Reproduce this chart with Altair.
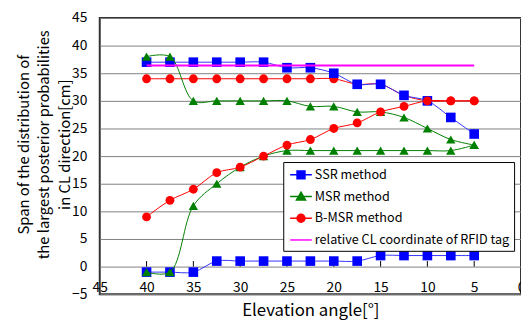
import altair as alt
import pandas as pd

# ---- data ----
elevation = [40, 37.5, 35, 32.5, 30, 27.5, 25, 22.5, 20, 17.5, 15, 12.5, 10, 7.5, 5]
ssr_upper = [37, 37, 37, 37, 37, 37, 36, 36, 35, 33, 33, 31, 30, 27, 24]
ssr_lower = [-1, -1, -1, 1, 1, 1, 1, 1, 1, 1, 2, 2, 2, 2, 2]
msr_upper = [38, 38, 30, 30, 30, 30, 30, 29, 29, 28, 28, 27, 25, 23, 22]
msr_lower = [-1, -1, 11, 15, 18, 20, 21, 21, 21, 21, 21, 21, 21, 21, 22]
bmsr_upper = [34, 34, 34, 34, 34, 34, 34, 34, 34, 33, 33, 31, 30, 30, 30]
bmsr_lower = [9, 12, 14, 17, 18, 20, 22, 23, 25, 26, 28, 29, 30, 30, 30]
rfid_x = [40, 5]
rfid_y = [36.4, 36.4]

series_names = ["SSR method", "MSR method", "B-MSR method", "relative CL coordinate of RFID tag"]
series_colors = ["#0000FF", "#008000", "#FF0000", "#FF00FF"]
x_ticks = [45, 40, 35, 30, 25, 20, 15, 10, 5, 0]
y_ticks = [-5, 0, 5, 10, 15, 20, 25, 30, 35, 40, 45]

FONT = "Noto Sans CJK JP"

rows = []
for name, bound, vals in [
    ("SSR method", "upper", ssr_upper), ("SSR method", "lower", ssr_lower),
    ("MSR method", "upper", msr_upper), ("MSR method", "lower", msr_lower),
    ("B-MSR method", "upper", bmsr_upper), ("B-MSR method", "lower", bmsr_lower),
]:
    for xv, yv in zip(elevation, vals):
        rows.append({"x": xv, "y": yv, "series": name, "bound": bound})
for xv, yv in zip(rfid_x, rfid_y):
    rows.append({"x": xv, "y": yv, "series": series_names[3], "bound": "tag"})
df = pd.DataFrame(rows)
ticks_df = pd.DataFrame({"x": x_ticks[1:-1]})

xs = alt.Scale(domain=[0, 45], reverse=True, nice=False, zero=False)
ys = alt.Scale(domain=[-5, 45], nice=False, zero=False)

xaxis = alt.Axis(
    values=x_ticks, offset=-28, domain=False, ticks=False, grid=False,
    labelPadding=14, labelFlush=False, labelOverlap=False, labelFontSize=14,
    labelColor="black", title="Elevation angle[°]", titleFontSize=17,
    titleFontWeight="normal", titlePadding=9, titleColor="black")
yaxis = alt.Axis(
    values=y_ticks, domain=False, ticks=False, grid=True, gridColor="#808080",
    gridWidth=1, labelPadding=13, labelFontSize=14, labelColor="black",
    labelFlush=False, labelOverlap=False,
    title=["Span of the distribution of", "the largest posterior probabilities",
           "in CL direction[cm]"],
    titleFontSize=15, titleFontWeight="normal", titleLineHeight=21,
    titlePadding=-1, titleY=128, titleColor="black")

X = alt.X("x:Q", scale=xs, axis=xaxis)
Y = alt.Y("y:Q", scale=ys, axis=yaxis)

base = alt.Chart(df)

def line_layer(name, bound, color, width=1.0):
    return base.transform_filter(
        (alt.datum.series == name) & (alt.datum.bound == bound)
    ).mark_line(interpolate="catmull-rom", color=color, strokeWidth=width).encode(x=X, y=Y)

def point_layer(name, bound, color, shape, size):
    return base.transform_filter(
        (alt.datum.series == name) & (alt.datum.bound == bound)
    ).mark_point(filled=True, shape=shape, size=size, color=color, opacity=1).encode(x=X, y=Y)

tick_layer = alt.Chart(ticks_df).mark_rule(color="black", strokeWidth=1).encode(
    x=X, y=alt.YDatum(0, scale=ys, axis=yaxis), y2=alt.Y2Datum(1))

# legend symbols: line segment + marker (unit coords, scaled by sqrt(size)/2)
legend_paths = [
    "M-0.75,0H2M0.125,-0.5H1.125V0.5H0.125Z",
    "M-0.75,0H2M0.625,-0.55L1.2,0.45H0.05Z",
    "M-0.75,0H2M0.125,0A0.5,0.5 0 1,0 1.125,0A0.5,0.5 0 1,0 0.125,0Z",
    "M-0.75,0H2",
]
leg = alt.Legend(title=None, orient="none", legendX=186, legendY=146,
                 fillColor="white", strokeColor="black", padding=4,
                 symbolSize=256, symbolStrokeWidth=1.5, labelFont=FONT,
                 labelFontSize=12.8, labelOffset=10, rowPadding=6, labelColor="black",
                 labelLimit=0, cornerRadius=0, symbolOpacity=1)
legend_layer = base.transform_filter("false").mark_point(filled=True, opacity=1).encode(
    x=X, y=Y,
    fill=alt.Fill("series:N", scale=alt.Scale(domain=series_names, range=series_colors), legend=leg),
    stroke=alt.Stroke("series:N", scale=alt.Scale(domain=series_names, range=series_colors), legend=leg),
    shape=alt.Shape("series:N", scale=alt.Scale(domain=series_names, range=legend_paths), legend=leg),
)

layers = [
    tick_layer,
    line_layer("B-MSR method", "upper", "#FF0000"),
    point_layer("B-MSR method", "upper", "#FF0000", "circle", 80),
    line_layer("SSR method", "upper", "#3333FF"),
    line_layer("SSR method", "lower", "#3333FF"),
    point_layer("SSR method", "upper", "#0000FF", "square", 95),
    point_layer("SSR method", "lower", "#0000FF", "square", 95),
    line_layer("MSR method", "upper", "#008000"),
    line_layer("MSR method", "lower", "#008000"),
    point_layer("MSR method", "upper", "#008000", "triangle-up", 90),
    point_layer("MSR method", "lower", "#008000", "triangle-up", 90),
    line_layer("B-MSR method", "lower", "#FF0000"),
    point_layer("B-MSR method", "lower", "#FF0000", "circle", 80),
    line_layer(series_names[3], "tag", "#FF00FF", 2),
    legend_layer,
]

chart = alt.layer(*layers).properties(
    width=427, height=280,
    autosize=alt.AutoSizeParams(type="none"),
    padding={"left": 93, "top": 8, "right": 0, "bottom": 24},
).configure(font=FONT).configure_view(stroke="#333333", strokeWidth=2)

chart.save("out.html", embed_options={"renderer": "svg", "actions": False})
